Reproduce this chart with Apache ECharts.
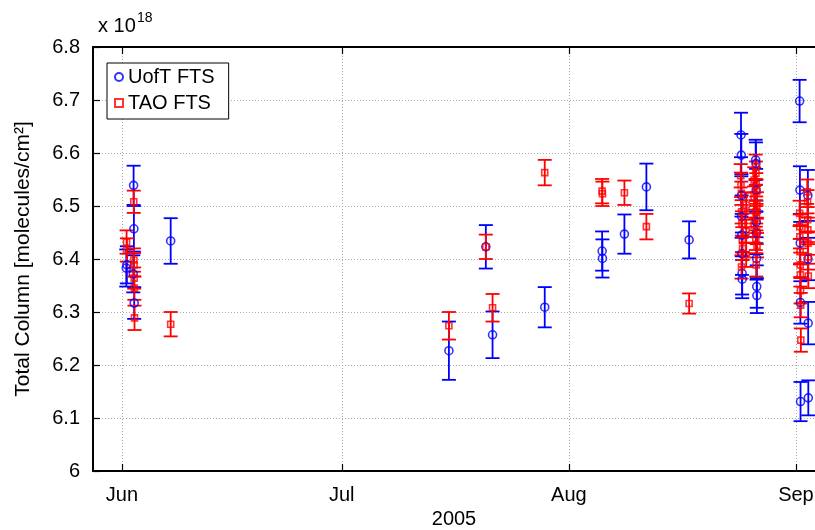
<!DOCTYPE html>
<html>
<head>
<meta charset="utf-8">
<script src="https://cdn.jsdelivr.net/npm/echarts@6/dist/echarts.min.js"></script>
<style>
  html, body { margin: 0; padding: 0; background: #fff; }
  #chart { width: 815px; height: 530px; }
</style>
</head>
<body>
<div id="chart"></div>
<script>
// Total column measurements (units of 1e18 molecules/cm^2), summer 2005

// Month ticks on the date axis
const monthTicks = ['2005-06-01 00:00', '2005-07-01 00:00', '2005-08-01 00:00', '2005-09-01 00:00'];
const monthLabels = ['Jun', 'Jul', 'Aug', 'Sep'];

// UofT FTS
const uoftDates = [
  '2005-06-01 14:00', '2005-06-01 16:00', '2005-06-02 14:00', '2005-06-02 15:00',
  '2005-06-02 13:00', '2005-06-02 16:00', '2005-06-07 15:30',
  '2005-07-15 15:00', '2005-07-20 16:00', '2005-07-21 14:00', '2005-07-28 17:00',
  '2005-08-05 13:00', '2005-08-05 14:00', '2005-08-08 14:00', '2005-08-11 14:00', '2005-08-17 10:00',
  '2005-08-24 12:00', '2005-08-24 13:00', '2005-08-24 13:30', '2005-08-24 14:00',
  '2005-08-24 14:30', '2005-08-24 15:00', '2005-08-24 15:30', '2005-08-24 16:00',
  '2005-08-26 12:00', '2005-08-26 13:00', '2005-08-26 13:30', '2005-08-26 14:00',
  '2005-08-26 14:30', '2005-08-26 15:00', '2005-08-26 15:30', '2005-08-26 16:00',
  '2005-09-01 12:00', '2005-09-01 13:00', '2005-09-01 14:00', '2005-09-01 14:30', '2005-09-01 15:00',
  '2005-09-02 15:00', '2005-09-02 15:30', '2005-09-02 16:00', '2005-09-02 16:30'
];
const uoftValues = [
  6.383, 6.389, 6.539, 6.457, 6.372, 6.317, 6.434,
  6.227, 6.423, 6.257, 6.309,
  6.415, 6.401, 6.447, 6.536, 6.436,
  6.634, 6.596, 6.520, 6.480, 6.445, 6.410, 6.373, 6.362,
  6.587, 6.580, 6.530, 6.470, 6.449, 6.401, 6.348, 6.331,
  6.698, 6.530, 6.430, 6.318, 6.131,
  6.520, 6.400, 6.279, 6.138
];
const uoftErrors = [
  0.035, 0.035, 0.037, 0.043, 0.035, 0.030, 0.043,
  0.055, 0.041, 0.044, 0.038,
  0.037, 0.036, 0.037, 0.044, 0.035,
  0.042, 0.040, 0.040, 0.040, 0.040, 0.040, 0.040, 0.036,
  0.038, 0.040, 0.040, 0.040, 0.040, 0.040, 0.040, 0.033,
  0.040, 0.045, 0.040, 0.040, 0.037,
  0.048, 0.040, 0.040, 0.033
];

// TAO FTS
const taoDates = [
  '2005-06-01 15:00', '2005-06-01 16:00', '2005-06-02 14:30', '2005-06-02 15:00',
  '2005-06-02 15:30', '2005-06-02 16:00', '2005-06-02 16:30', '2005-06-02 17:00', '2005-06-07 15:30',
  '2005-07-15 15:00', '2005-07-20 16:00', '2005-07-21 14:00', '2005-07-28 17:00',
  '2005-08-05 13:00', '2005-08-05 14:00', '2005-08-08 14:00', '2005-08-11 14:00', '2005-08-17 10:00',
  '2005-08-24 11:00', '2005-08-24 12:00', '2005-08-24 13:00', '2005-08-25 05:00', '2005-08-24 14:00',
  '2005-08-24 15:00', '2005-08-25 05:00', '2005-08-24 16:00', '2005-08-24 17:00', '2005-08-25 05:00',
  '2005-08-24 13:30',
  '2005-08-26 12:00', '2005-08-26 13:00', '2005-08-26 07:00', '2005-08-26 14:00', '2005-08-26 15:00',
  '2005-08-26 07:00', '2005-08-26 16:00', '2005-08-26 13:30', '2005-08-26 14:30', '2005-08-26 07:00',
  '2005-08-26 15:30', '2005-08-26 12:30', '2005-08-26 16:30', '2005-08-26 14:00',
  '2005-09-01 12:00', '2005-09-01 12:30', '2005-09-01 13:00', '2005-09-01 13:30', '2005-09-01 14:00',
  '2005-09-01 14:30', '2005-09-01 15:00', '2005-09-01 15:30', '2005-09-01 16:00',
  '2005-09-02 13:00', '2005-09-02 14:00', '2005-09-02 14:30', '2005-09-02 15:00',
  '2005-09-02 15:30', '2005-09-02 16:00', '2005-09-02 16:30'
];
const taoValues = [
  6.432, 6.417, 6.508, 6.398, 6.389, 6.364, 6.345, 6.289, 6.277,
  6.274, 6.423, 6.308, 6.563,
  6.528, 6.523, 6.525, 6.461, 6.316,
  6.557, 6.540, 6.524, 6.502, 6.489, 6.467, 6.452, 6.436, 6.420, 6.408, 6.385,
  6.574, 6.562, 6.549, 6.540, 6.527, 6.515, 6.502, 6.489, 6.477, 6.464, 6.452, 6.439, 6.426, 6.389,
  6.486, 6.461, 6.442, 6.414, 6.389, 6.370, 6.340, 6.313, 6.247,
  6.527, 6.508, 6.474, 6.455, 6.430, 6.404, 6.368
];
const taoErrors = [
  0.022, 0.022, 0.021, 0.022, 0.022, 0.020, 0.022, 0.023, 0.023,
  0.026, 0.023, 0.026, 0.024,
  0.023, 0.023, 0.023, 0.024, 0.019,
  0.022, 0.023, 0.022, 0.024, 0.022, 0.023, 0.022, 0.024, 0.022, 0.023, 0.022,
  0.023, 0.022, 0.024, 0.022, 0.023, 0.022, 0.024, 0.022, 0.023, 0.022, 0.024, 0.022, 0.023, 0.022,
  0.024, 0.023, 0.022, 0.024, 0.023, 0.022, 0.024, 0.023, 0.022,
  0.023, 0.022, 0.024, 0.023, 0.022, 0.024, 0.023
];

const axisMin = '2005-05-28 01:00';
const axisMax = '2005-09-03 14:24';

// Dates are plotted as millisecond timestamps on a linear axis
function toTime(s) {
  const m = s.match(/(\d+)-(\d+)-(\d+) (\d+):(\d+)/);
  return new Date(+m[1], +m[2] - 1, +m[3], +m[4], +m[5]).getTime();
}

const tickTimes = monthTicks.map(toTime);
const FONT = "'Liberation Sans', Arial, Helvetica, sans-serif";

function rows(dates, values, errors) {
  return dates.map((d, i) => [toTime(d), values[i], errors[i]]);
}

function errorBars(color) {
  return function (params, api) {
    const x = api.value(0), y = api.value(1), e = api.value(2);
    const top = api.coord([x, y + e]);
    const bot = api.coord([x, y - e]);
    const hw = 7;
    const style = { stroke: color, lineWidth: 1.8, fill: null };
    return {
      type: 'group',
      children: [
        { type: 'line', shape: { x1: top[0], y1: top[1], x2: bot[0], y2: bot[1] }, style: style },
        { type: 'line', shape: { x1: top[0] - hw, y1: top[1], x2: top[0] + hw, y2: top[1] }, style: style },
        { type: 'line', shape: { x1: bot[0] - hw, y1: bot[1], x2: bot[0] + hw, y2: bot[1] }, style: style }
      ]
    };
  };
}

const uoftData = rows(uoftDates, uoftValues, uoftErrors);
const taoData = rows(taoDates, taoValues, taoErrors);

const chart = echarts.init(document.getElementById('chart'), null, { renderer: 'canvas' });

const dotted = { color: '#aaaaaa', width: 1, type: [1, 2] };

function monthLabel(v) {
  for (let i = 0; i < tickTimes.length; i++) {
    if (Math.abs(tickTimes[i] - v) < 3600000) return monthLabels[i];
  }
  return '';
}

chart.setOption({
  animation: false,
  backgroundColor: '#ffffff',
  textStyle: { fontFamily: FONT },
  grid: { left: 93, top: 47, right: 0, bottom: 59, containLabel: false, outerBoundsMode: 'none' },
  graphic: [
    { type: 'text', left: 98, top: 16, style: { text: 'x 10', font: '20px ' + FONT, fill: '#000' } },
    { type: 'text', left: 137, top: 11, style: { text: '18', font: '14px ' + FONT, fill: '#000' } }
  ],
  legend: {
    left: 107, top: 63, orient: 'vertical',
    padding: [4, 14, 6, 7], itemGap: 6, itemWidth: 8, itemHeight: 8,
    borderColor: '#000', borderWidth: 1, backgroundColor: '#fff',
    textStyle: { fontSize: 20, color: '#000', fontFamily: FONT },
    data: ['UofT FTS', 'TAO FTS']
  },
  xAxis: [
    {
      type: 'value', position: 'bottom', scale: true,
      min: toTime(axisMin), max: toTime(axisMax),
      name: '2005', nameLocation: 'middle', nameGap: 38,
      nameTextStyle: { fontSize: 20, color: '#000', fontFamily: FONT },
      axisLine: { show: true, onZero: false, lineStyle: { color: '#000', width: 2 } },
      axisTick: { show: true, inside: true, length: 7, customValues: tickTimes, lineStyle: { color: '#000', width: 1.2 } },
      axisLabel: {
        customValues: tickTimes, margin: 14, fontSize: 20, color: '#000', fontFamily: FONT,
        formatter: monthLabel
      },
      splitLine: { show: true, lineStyle: dotted }
    },
    {
      type: 'value', position: 'top', scale: true,
      min: toTime(axisMin), max: toTime(axisMax),
      axisLine: { show: true, onZero: false, lineStyle: { color: '#000', width: 2 } },
      axisTick: { show: true, inside: true, length: 7, customValues: tickTimes, lineStyle: { color: '#000', width: 1.2 } },
      axisLabel: { show: false },
      splitLine: { show: false }
    }
  ],
  yAxis: {
    type: 'value', min: 6, max: 6.8, interval: 0.1,
    name: 'Total Column [molecules/cm²]', nameLocation: 'middle', nameGap: 59,
    nameTextStyle: { fontSize: 21, color: '#000', fontFamily: FONT },
    axisLine: { show: true, lineStyle: { color: '#000', width: 2 } },
    axisTick: { show: true, inside: true, length: 7, lineStyle: { color: '#000', width: 1.2 } },
    axisLabel: {
      margin: 13, fontSize: 20, color: '#000', fontFamily: FONT,
      formatter: function (v) { return String(+v.toFixed(1)); }
    },
    splitLine: { show: true, lineStyle: dotted }
  },
  series: [
    {
      name: 'UofT FTS bars', type: 'custom', xAxisIndex: 0,
      renderItem: errorBars('#0000ff'), data: uoftData,
      encode: { x: 0, y: [1] }, clip: false
    },
    {
      name: 'UofT FTS', type: 'scatter', xAxisIndex: 0,
      symbol: 'circle', symbolSize: 8,
      itemStyle: { color: 'rgba(0,0,0,0)', borderColor: '#0000ff', borderWidth: 1.6 },
      data: uoftData.map(r => [r[0], r[1]])
    },
    {
      name: 'TAO FTS bars', type: 'custom', xAxisIndex: 0,
      renderItem: errorBars('#ff0000'), data: taoData,
      encode: { x: 0, y: [1] }, clip: false
    },
    {
      name: 'TAO FTS', type: 'scatter', xAxisIndex: 0,
      symbol: 'rect', symbolSize: 6,
      itemStyle: { color: 'rgba(0,0,0,0)', borderColor: '#ff0000', borderWidth: 1.6 },
      data: taoData.map(r => [r[0], r[1]])
    }
  ]
});
</script>
</body>
</html>
